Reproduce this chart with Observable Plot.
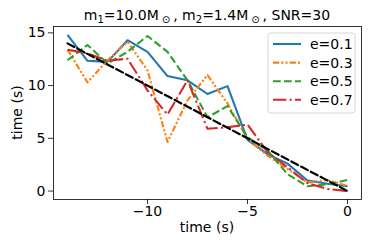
<!DOCTYPE html>
<html>
<head>
<meta charset="utf-8">
<script src="https://cdn.jsdelivr.net/npm/d3@7"></script>
<script src="https://cdn.jsdelivr.net/npm/@observablehq/plot@0.6"></script>
<style>
  html, body { margin: 0; padding: 0; background: #fff; }
  svg { font-family: "DejaVu Sans", sans-serif; }
</style>
</head>
<body>
<div id="chart"></div>
<script>
const times = [-14, -13, -12, -11, -10, -9, -8, -7, -6, -5, -4, -3, -2, -1, 0];
const e01 = [14.8, 12.35, 12.25, 14.3, 13.2, 10.9, 10.5, 9.2, 9.95, 4.85, 3.5, 2.6, 1.0, 0.7, 0.45];
const e03 = [13.4, 10.3, 12.4, 14.15, 11.45, 4.65, 8.6, 11.0, 8.3, 4.95, 3.35, 2.1, 0.8, 1.05, 0.5];
const e05 = [12.4, 13.85, 12.1, 13.2, 14.7, 13.2, 10.5, 7.0, 8.05, 5.1, 3.85, 1.6, 0.45, 0.65, 1.05];
const e07 = [13.4, 13.05, 12.35, 12.55, 9.55, 7.25, 10.5, 5.9, 6.05, 6.3, 3.7, 2.25, 0.75, 0.2, 0.0];
const refX = [-14, 0];
const refY = [14, 0];
const seriesNames = ["e=0.1", "e=0.3", "e=0.5", "e=0.7"];
const seriesValues = [e01, e03, e05, e07];
const colors = ["#1f77b4", "#ff7f0e", "#2ca02c", "#d62728"];
const dashes = ["none", "6.25,2.08,2.08,2.08,2.08,2.08", "7.7,3.3", "13.3,3.3,2.08,3.3"];
const xTicks = [-10, -5, 0];
const yTicks = [0, 5, 10, 15];

const fmt = d => d < 0 ? "\u2212" + (-d) : String(d);

const refRows = refX.map((x, i) => ({t: x, v: refY[i]}));
const seriesMarks = seriesValues.map((vals, k) =>
  Plot.line(times.map((t, i) => ({t, v: vals[i]})), {
    x: "t", y: "v", stroke: colors[k], strokeWidth: 2.08,
    strokeDasharray: dashes[k], strokeLinejoin: "round", strokeLinecap: "butt"
  })
);

const W = 374, H = 249, mL = 53, mR = 13, mT = 26, mB = 50;
const chart = Plot.plot({
  width: W, height: H,
  marginLeft: mL, marginRight: mR, marginTop: mT, marginBottom: mB,
  style: {fontFamily: "DejaVu Sans, sans-serif", fontSize: "14px", background: "#fff", color: "black"},
  x: {domain: [-14.7, 0.7]},
  y: {domain: [-0.8, 15.6]},
  marks: [
    ...seriesMarks,
    Plot.line(refRows, {x: "t", y: "v", stroke: "black", strokeWidth: 2.2, strokeDasharray: "7.7,3.3"}),
    Plot.frame({stroke: "black", strokeWidth: 0.8}),
    Plot.axisX({ticks: xTicks, tickFormat: fmt, tickSize: 5, tickPadding: 2, label: null, fontSize: 14, strokeWidth: 0.8}),
    Plot.axisY({ticks: yTicks, tickFormat: fmt, tickSize: 5, tickPadding: 3, label: null, fontSize: 14, strokeWidth: 0.8})
  ]
});
document.getElementById("chart").appendChild(chart);

const svg = d3.select(chart);
// axis labels
svg.append("text").attr("x", (mL + W - mR) / 2).attr("y", 232)
  .attr("text-anchor", "middle").attr("font-size", 14).attr("fill", "black").text("time (s)");
svg.append("text").attr("transform", `translate(22,${(mT + H - mB) / 2}) rotate(-90)`)
  .attr("text-anchor", "middle").attr("font-size", 14).attr("fill", "black").text("time (s)");

// title
const title = svg.append("text").attr("x", (mL + W - mR) / 2).attr("y", 20)
  .attr("text-anchor", "middle").attr("font-size", 14).attr("fill", "black");
// [text, isSub, dx]
const parts = [["m", 0, 0], ["1", 1, 0], ["=10.0M", 0, 0], ["\u2299", 1, 3], [",", 0, 3], [" m", 0, 0], ["2", 1, 0], ["=1.4M", 0, 0], ["\u2299", 1, 3], [",", 0, 3], [" SNR=30", 0, 0]];
let prevSub = false;
parts.forEach(([s, sub, dx]) => {
  const ts = title.append("tspan").text(s);
  if (dx) ts.attr("dx", dx);
  if (sub) { ts.attr("font-size", 10).attr("dy", prevSub ? 0 : 3); }
  else if (prevSub) { ts.attr("dy", -3); }
  prevSub = !!sub;
});

// legend
const lg = svg.append("g").attr("text-anchor", "start");
lg.append("rect").attr("x", 268).attr("y", 33).attr("width", 87).attr("height", 80)
  .attr("rx", 3).attr("fill", "white").attr("fill-opacity", 0.8)
  .attr("stroke", "#cccccc").attr("stroke-width", 0.8);
seriesNames.forEach((name, k) => {
  const cy = 44 + k * 18.6;
  lg.append("line").attr("x1", 273).attr("x2", 301).attr("y1", cy).attr("y2", cy)
    .attr("stroke", colors[k]).attr("stroke-width", 2.08)
    .attr("stroke-dasharray", dashes[k]);
  lg.append("text").attr("x", 310).attr("y", cy + 5).attr("font-size", 14)
    .attr("text-anchor", "start").attr("fill", "black").text(name);
});
</script>
</body>
</html>
